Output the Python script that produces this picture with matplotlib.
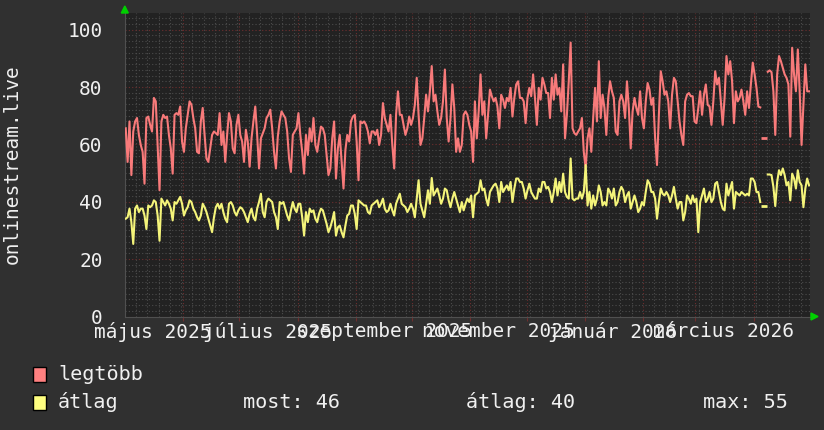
import numpy as np
import matplotlib
matplotlib.use("Agg")
import matplotlib.pyplot as plt
import matplotlib.dates as mdates
from matplotlib.patches import Rectangle, Polygon
from matplotlib.transforms import blended_transform_factory

nan = np.nan

# daily values, first day = 2025-05-01
start_day = np.datetime64("2025-05-01")
end_day = np.datetime64("2026-05-01")

legtobb = [
    65.6, 53.9, 68.0, 49.3, 64.5, 68.0, 69.2, 63.3, 59.8, 57.4,
    46.3, 69.2, 69.7, 66.8, 64.5, 76.2, 75.0, 59.8, 44.0, 68.0,
    70.3, 69.2, 69.7, 63.3, 58.6, 49.8, 70.3, 70.9, 70.3, 73.2,
    61.0, 57.4, 65.6, 70.3, 75.0, 73.8, 69.2, 65.6, 57.4, 56.9,
    68.0, 72.7, 63.3, 55.1, 53.9, 58.6, 63.3, 64.5, 63.9, 63.3,
    70.9, 59.8, 64.5, 53.9, 63.3, 70.9, 68.0, 58.6, 56.9, 66.8,
    70.3, 63.3, 61.0, 53.9, 65.1, 61.0, 52.2, 62.1, 68.0, 73.2,
    63.3, 51.6, 62.1, 63.9, 65.6, 69.2, 70.3, 72.1, 65.6, 57.4,
    51.6, 62.7, 68.0, 71.5, 70.3, 69.2, 64.5, 55.1, 50.4, 63.3,
    64.5, 65.6, 70.9, 63.3, 57.4, 49.8, 63.3, 56.3, 65.6, 61.0,
    69.2, 59.8, 57.4, 62.1, 66.2, 65.6, 63.3, 56.3, 49.3, 51.6,
    62.1, 68.0, 48.1, 58.6, 63.3, 53.9, 44.6, 58.0, 63.3, 61.0,
    68.0, 69.7, 70.3, 61.0, 47.5, 68.0, 67.4, 68.0, 66.8, 64.5,
    60.4, 64.5, 64.5, 63.3, 65.1, 59.8, 63.3, 74.4, 69.2, 66.8,
    64.5, 70.3, 59.8, 51.6, 70.3, 78.5, 70.3, 70.3, 66.8, 63.3,
    65.6, 69.7, 66.8, 69.2, 73.8, 83.2, 70.3, 59.8, 62.1, 69.2,
    77.3, 71.5, 78.5, 87.3, 75.0, 77.3, 71.5, 66.8, 69.2, 75.0,
    86.1, 69.2, 61.0, 69.2, 80.9, 72.7, 57.4, 62.1, 57.4, 59.8,
    70.3, 71.5, 70.3,
    66.8, 64.5, 53.9, 75.0, 62.1, 71.5, 84.4, 70.3, 75.0, 62.1,
    70.3, 79.1, 76.8, 75.0, 76.2, 73.2, 65.6, 77.3, 75.6, 72.7,
    76.2, 75.0, 79.7, 69.7, 76.2, 80.9, 82.0, 76.2, 76.2, 75.0,
    67.4, 76.2, 79.7, 76.8, 84.4, 76.2, 66.8, 79.7, 75.6, 83.2,
    80.9, 77.9, 77.9, 69.2, 83.2, 75.6, 84.4, 77.3, 79.7, 71.5,
    87.9, 62.1, 70.3, 82.0, 95.5, 65.6, 63.9, 63.3, 64.5, 65.6,
    69.2, 57.4, 51.6, 62.1, 65.6, 57.4, 69.2, 79.7, 68.0, 89.0,
    69.2, 77.3, 72.7, 63.3, 76.2, 82.0, 78.5, 76.2, 64.5, 63.3,
    75.0, 77.3, 75.0, 69.2, 82.0, 72.7, 58.6, 71.5, 76.2, 72.7,
    70.3, 78.5, 69.2, 65.6, 75.0, 81.4, 79.1, 73.8, 76.2, 62.1,
    52.8, 70.3, 85.5, 82.0, 77.3, 78.5, 75.0, 65.6, 77.3, 83.2,
    82.0, 75.0, 68.0, 63.3, 59.8, 75.0, 77.3, 77.9, 76.8, 76.8,
    68.0, 67.4, 72.7, 78.5, 70.3, 77.3, 80.9, 73.8, 73.2, 66.8,
    75.0, 85.5, 80.9, 83.2, 75.0, 66.8, 76.2, 90.8, 84.4, 89.0,
    82.0, 67.4, 78.5, 75.0, 76.2, 79.1, 75.0, 70.3, 78.5, 72.7,
    80.9, 88.5, 84.4, 79.7, 73.2, 72.9, nan, 62.1, nan, 85.3,
    85.8, 85.2, 78.5, 63.3, 84.4, 90.8, 89.0, 86.7, 84.4, 83.2,
    80.9, 62.7, 93.7, 84.4, 78.5, 93.1, 78.5, 59.8, 73.8, 87.9,
    78.5, 78.5,
]

atlag = [
    34.1, 34.6, 37.6, 32.9, 25.3, 37.6, 38.7, 36.4, 37.6, 37.6,
    35.2, 30.5, 38.7, 38.1, 38.7, 40.5, 39.9, 35.2, 26.4, 41.1,
    39.9, 38.7, 40.5, 39.3, 37.6, 33.5, 39.9, 39.3, 40.5, 41.7,
    39.3, 35.2, 37.0, 38.1, 40.5, 39.9, 37.6, 36.4, 34.6, 33.5,
    35.2, 39.3, 38.1, 36.4, 34.1, 31.7, 29.4, 34.6, 38.1, 39.3,
    37.6, 39.3, 36.4, 34.1, 32.9, 39.3, 39.9, 38.7, 36.4, 35.2,
    37.0, 38.1, 37.6, 36.4, 34.6, 32.9, 35.8, 37.6, 34.6, 33.5,
    37.6, 39.9, 42.8, 36.4, 34.6, 39.9, 41.1, 40.5, 39.9, 36.4,
    34.6, 30.5, 39.9, 39.3, 39.9, 37.6, 35.2, 33.5, 37.0, 39.9,
    37.6, 36.4, 39.3, 39.3, 34.6, 28.2, 36.4, 32.9, 37.6, 36.4,
    37.0, 34.1, 32.9, 35.8, 37.6, 37.0, 34.6, 32.3, 29.4, 31.1,
    33.5, 36.4, 28.2, 31.1, 31.7, 29.4, 27.6, 31.7, 35.2, 35.8,
    38.7, 38.7, 35.8, 30.5, 40.5, 39.9, 39.3, 38.7, 38.7, 36.4,
    35.8, 38.7, 39.3, 39.9, 40.5, 38.1, 39.3, 41.1, 37.6, 36.4,
    37.0, 39.3, 37.0, 35.2, 39.3, 41.1, 42.8, 39.3, 38.7, 38.1,
    36.4, 37.6, 39.3, 37.6, 34.6, 41.1, 47.5, 39.3, 37.0, 34.6,
    39.3, 44.0, 39.3, 48.3, 42.2, 43.4, 44.6, 42.2, 39.3, 41.1,
    44.6, 44.0, 40.5, 38.1, 41.1, 43.4, 41.1, 38.7, 36.4, 39.9,
    37.0, 39.3, 41.1,
    39.9, 42.2, 34.6, 42.2, 42.8, 43.4, 47.5, 44.0, 44.6, 41.1,
    38.7, 43.4, 44.6, 45.7, 46.3, 44.6, 39.9, 46.9, 43.4, 44.6,
    45.7, 44.0, 46.9, 39.9, 44.6, 48.1, 48.1, 46.9, 46.9, 44.6,
    41.1, 44.0, 46.3, 43.4, 42.2, 41.1, 41.1, 44.6, 43.4, 46.9,
    46.9, 44.6, 45.2, 43.4, 39.9, 43.4, 48.1, 42.2, 46.9, 43.4,
    49.8, 43.4, 41.7, 41.1, 55.1, 41.1, 40.5, 41.1, 41.1, 43.4,
    41.1, 43.4, 52.8, 38.7, 43.4, 37.6, 42.2, 38.7, 41.1, 45.7,
    43.4, 38.7, 39.9, 38.7, 44.6, 43.4, 41.1, 44.6, 38.7, 39.9,
    43.4, 45.2, 44.0, 39.9, 42.2, 43.4, 37.6, 39.9, 42.2, 39.9,
    36.4, 37.6, 39.9, 38.7, 43.4, 47.5, 46.3, 43.4, 43.4, 41.1,
    34.1, 39.9, 44.6, 42.8, 42.2, 43.4, 42.2, 39.9, 42.2, 45.2,
    41.1, 37.6, 39.9, 39.9, 33.5, 36.4, 42.2, 41.1, 39.3, 42.2,
    39.9, 41.1, 29.4, 39.9, 42.2, 44.6, 39.9, 41.1, 43.4, 39.9,
    41.1, 46.3, 46.9, 43.4, 39.9, 37.6, 37.0, 46.3, 42.2, 44.6,
    46.9, 37.6, 43.4, 42.8, 42.2, 43.4, 42.8, 42.2, 42.8, 42.2,
    48.1, 48.1, 46.9, 43.4, 43.4, 39.9, nan, 38.5, nan, 49.5,
    49.5, 49.3, 45.2, 38.5, 46.9, 51.0, 49.3, 51.6, 49.3, 45.7,
    46.9, 40.5, 49.8, 48.1, 44.6, 51.0, 46.9, 45.7, 38.1, 44.6,
    48.1, 45.7,
]

month_names = ["május 2025", "július 2025", "szeptember 2025",
               "november 2025", "január 2026", "március 2026"]
label_months = ["2025-05", "2025-07", "2025-09", "2025-11", "2026-01", "2026-03"]

legend_names = ["legtöbb", "átlag"]
stat_labels = ["most:", "átlag:", "max:"]
stat_values = [46, 40, 55]

# colours
bg = "#303030"
plot_bg = "#222222"
red = "#f87a7a"
yellow = "#f4f47a"
white = "#f0f0f0"

plt.rcParams["font.family"] = ["DejaVu Sans Mono", "DejaVu Sans"]

W, H = 824, 430
fig = plt.figure(figsize=(W / 100, H / 100), dpi=100, facecolor=bg)
L, R, T, B = 124.8, 810, 13.3, 316.5
ax = fig.add_axes([L / W, 1 - B / H, (R - L) / W, (B - T) / H])
ax.set_facecolor(plot_bg)

x = mdates.date2num(start_day + np.arange(len(legtobb)) * np.timedelta64(1, "D")
                    + np.timedelta64(12, "h"))
red_v = np.array(legtobb, dtype=float)
yel_v = np.array(atlag, dtype=float)

ax.plot(x, red_v, color=red, lw=1.5, zorder=3)
ax.plot(x, yel_v, color=yellow, lw=1.5, zorder=3)

# single points surrounded by gaps
for v, c in [(red_v, red), (yel_v, yellow)]:
    ok = np.isfinite(v)
    prev_ok = np.r_[False, ok[:-1]]
    next_ok = np.r_[ok[1:], False]
    iso = ok & ~prev_ok & ~next_ok
    ax.plot(x[iso], v[iso], ls="none", marker="_", ms=4, mew=2, color=c, zorder=3)

x0 = mdates.date2num(start_day)
x1 = mdates.date2num(end_day)
ax.set_xlim(x0, x1)
ax.set_ylim(0, 105.7)

# grid
month_starts = np.arange(np.datetime64("2025-06"), np.datetime64("2026-05"),
                         np.timedelta64(1, "M")).astype("datetime64[D]")
six_days = np.arange(start_day, end_day, np.timedelta64(6, "D"))
ax.set_xticks(mdates.date2num(month_starts))
ax.set_xticks(mdates.date2num(six_days), minor=True)
ax.set_xticklabels([])
ax.set_yticks(np.arange(0, 101, 20))
ax.set_yticks(np.arange(0, 105, 2), minor=True)
ax.grid(which="minor", color="#4c4c4c", ls=(0, (1, 2)), lw=0.8, zorder=0)
ax.grid(which="major", color="#6e2e2e", ls=(0, (1, 2)), lw=0.8, zorder=1)
ax.tick_params(which="both", length=0, colors=white, labelsize=14, pad=16)
ax.tick_params(axis="x", which="major", length=3, color="#6e2e2e", direction="out")
for s in ax.spines.values():
    s.set_visible(False)
ax.spines["left"].set_visible(True)
ax.spines["bottom"].set_visible(True)
ax.spines["left"].set_color("#505050")
ax.spines["bottom"].set_color("#505050")

# month labels centred on the middle of each month
trans = blended_transform_factory(ax.transData, ax.transAxes)
for name, m in zip(month_names, label_months):
    mid = np.datetime64(m).astype("datetime64[D]") + np.timedelta64(15, "D")
    ax.text(mdates.date2num(mid), -0.05, name, transform=trans, ha="center",
            va="center", color=white, fontsize=14)

fig.text(12 / W, 1 - 164 / H, "onlinestream.live", rotation=90, ha="center",
         va="center", color=white, fontsize=14)

# green arrows
fig.patches.append(Polygon([[L / W, 1 - 6 / H], [(L - 3.5) / W, 1 - 13 / H],
                            [(L + 3.5) / W, 1 - 13 / H]],
                           closed=True, transform=fig.transFigure, color="#00d000"))
fig.patches.append(Polygon([[818 / W, 1 - B / H], [811 / W, 1 - (B - 3.5) / H],
                            [811 / W, 1 - (B + 3.5) / H]],
                           closed=True, transform=fig.transFigure, color="#00d000"))

# legend
for i, (name, c) in enumerate(zip(legend_names, ["#ff8080", "#ffff80"])):
    yc = 374 + 28 * i
    fig.patches.append(Rectangle((33 / W, 1 - (yc + 7.5) / H), 13 / W, 15 / H,
                                 transform=fig.transFigure, facecolor=c,
                                 edgecolor="black", lw=1))
    fig.text(58 / W, 1 - yc / H, name, ha="left", va="center", color=white, fontsize=14.5)

for lab, val, px in zip(stat_labels, stat_values, [243, 466, 703]):
    fig.text(px / W, 1 - 402 / H, f"{lab} {val}", ha="left", va="center",
             color=white, fontsize=14.5)

fig.savefig("out.png", dpi=100, facecolor=bg)
